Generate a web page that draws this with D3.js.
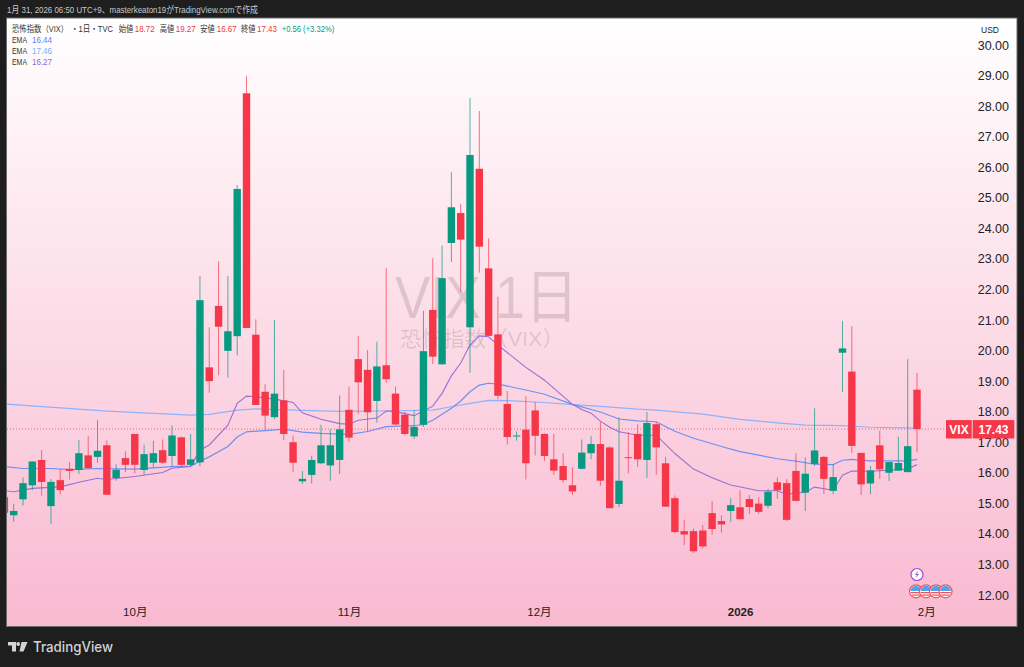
<!DOCTYPE html>
<html><head><meta charset="utf-8">
<script src="https://cdn.jsdelivr.net/npm/d3@7"></script>
<style>
html,body{margin:0;padding:0;background:#1e1e1e;overflow:hidden}
svg{display:block}
text{font-family:"Liberation Sans","Noto Sans CJK JP",sans-serif}
</style></head><body><svg id="c" width="1024" height="667"></svg>
<script>
// Candles start one session before the first full one (clipped at the left edge)
const opens=[15.20,14.61,15.13,15.59,16.42,14.91,15.76,16.13,16.09,16.57,16.52,16.90,15.83,16.48,17.27,16.09,16.33,16.74,16.55,17.16,16.26,16.34,19.45,21.46,19.99,20.47,28.42,20.52,18.65,17.82,18.37,17.00,15.72,15.93,16.31,16.24,16.42,18.06,19.72,19.37,18.35,19.52,18.59,17.90,17.19,17.57,21.33,19.55,23.52,24.50,20.76,25.95,22.69,20.53,18.25,17.21,17.41,18.04,17.27,16.44,16.22,15.59,16.13,16.64,16.94,16.83,14.98,16.51,17.27,16.42,17.59,16.31,15.17,14.09,14.09,14.11,14.68,14.42,14.75,14.87,15.14,14.99,14.92,15.69,15.66,16.06,15.35,16.29,16.52,15.41,19.93,19.31,16.65,15.65,16.90,16.00,16.07,16.02,18.72];
const highs=[15.43,14.98,15.85,16.37,16.74,15.79,16.12,16.35,17.07,17.20,17.73,17.06,16.28,16.70,17.27,16.92,17.05,17.09,17.55,17.19,17.27,22.44,20.76,22.92,22.44,25.42,28.98,21.02,18.90,21.00,19.36,17.22,16.06,16.55,17.57,17.42,18.53,18.82,20.47,20.02,20.29,22.70,18.82,18.00,18.05,21.30,23.02,23.43,25.84,24.80,28.27,27.84,23.67,21.76,18.68,17.36,18.51,18.31,17.29,17.27,16.64,16.18,17.09,17.20,17.66,16.87,17.81,17.33,17.59,17.99,17.67,16.52,15.26,14.45,14.17,14.29,15.07,14.61,15.17,15.43,15.27,15.20,15.47,15.85,15.79,16.64,16.50,18.11,16.55,16.28,20.97,20.80,16.65,16.22,17.37,16.36,17.18,19.72,19.27];
const lows=[14.45,14.40,14.92,15.43,15.25,14.33,15.30,15.78,15.96,16.14,16.33,15.28,15.74,16.02,15.98,15.93,16.18,16.29,16.20,16.20,16.22,16.22,18.62,19.19,19.12,19.84,20.74,18.22,17.40,17.75,17.07,16.02,15.63,15.65,16.28,15.74,15.96,17.01,17.92,17.34,17.64,18.94,17.56,17.23,17.10,17.50,19.56,19.53,22.90,21.92,19.27,22.55,20.48,18.40,16.92,17.05,15.78,16.57,16.39,15.93,15.67,15.28,16.11,16.44,15.57,14.84,14.87,15.98,16.20,15.83,15.93,14.89,14.02,13.63,13.38,13.52,13.98,14.04,14.39,14.48,14.65,14.65,14.84,15.15,14.43,15.08,14.75,16.22,15.31,15.30,18.64,16.65,15.27,15.30,15.80,15.73,16.06,16.02,16.67];
const closes=[14.69,14.75,15.66,16.37,15.70,15.70,15.43,16.06,16.64,16.15,16.72,15.28,16.10,16.26,16.26,16.61,16.64,16.33,17.22,16.26,16.44,21.65,19.00,20.78,20.63,25.29,20.74,18.22,17.87,18.59,17.27,16.33,15.80,16.42,16.90,16.90,17.42,17.15,18.96,17.98,19.48,19.06,17.58,17.27,17.50,19.98,19.80,22.37,24.69,23.63,26.40,23.40,20.48,18.52,17.17,17.22,16.31,17.21,16.55,16.07,15.76,15.39,16.66,16.94,15.74,14.84,15.74,16.48,16.44,17.63,16.83,14.89,14.06,13.98,13.43,13.59,14.16,14.31,14.94,14.48,14.88,14.72,15.38,15.43,14.46,15.08,15.97,16.73,15.80,15.86,20.07,16.88,15.62,16.08,16.11,16.35,16.32,16.87,17.43];
const firstSession=-1;

const ema1Idx=[-1,1,4,6,9,13,17,19,20,21,23,24,25,27,29,31,33,36,38,40,43,44,45,47,48,49,50,51,52,55,57,60,63,65,67,69,71,73,76,78,82,84,86,88,89,90,92,96,97];
const ema1Val=[16.20,16.14,16.14,16.10,16.14,16.12,16.20,16.22,16.38,16.52,16.86,17.17,17.34,17.38,17.43,17.33,17.29,17.26,17.35,17.51,17.54,17.58,17.72,18.11,18.35,18.65,18.87,18.93,18.90,18.71,18.57,18.24,17.99,17.76,17.70,17.67,17.36,17.13,16.86,16.69,16.46,16.38,16.28,16.27,16.41,16.44,16.39,16.39,16.44];
const ema2Idx=[-1,10,19,21,24,26,30,35,41,45,47,49,51,53,57,60,63,67,69,74,78,82,85,89,92,97];
const ema2Val=[18.25,18.02,17.89,17.91,18.05,18.09,18.05,18.01,18.03,18.05,18.16,18.27,18.37,18.36,18.30,18.23,18.17,18.08,18.05,17.92,17.75,17.63,17.56,17.54,17.49,17.46];
const ema3Idx=[-1,0,2,5,7,9,10,13,16,17,19,20,21,23,24,25,26,28,30,31,33,35,36,37,39,40,41,43,45,46,47,48,49,50,51,52,55,57,60,61,62,63,64,65,67,69,71,73,75,77,80,82,83,85,86,88,89,90,92,96,97];
const ema3Val=[15.41,15.38,15.49,15.54,15.69,15.82,15.78,15.88,16.01,16.15,16.21,16.74,16.91,17.56,18.27,18.51,18.49,18.41,18.30,17.96,17.75,17.61,17.59,17.72,17.79,18.02,18.00,17.87,18.18,18.60,19.17,19.59,20.18,20.48,20.45,20.18,19.45,19.03,18.24,18.07,17.95,17.69,17.49,17.34,17.23,17.23,16.63,16.12,15.84,15.60,15.41,15.41,15.30,15.36,15.53,15.43,15.92,16.06,16.05,16.12,16.27];

const priceTicks=d3.range(12,31);
const monthTickIdx=[13,36,56.4,78,98];
const monthTickLabels=["10月","11月","12月","2026","2月"];
const legendTexts=["恐怖指数（VIX）","・1日・TVC","始値","18.72","高値","19.27","安値","16.67","終値","17.43","+0.56 (+3.32%)"];
const emaNames=["EMA","EMA","EMA"];
const emaLast=["16.44","17.46","16.27"];
const lastPrice=17.43;

// layout and styling
const UP="#089981",DOWN="#f6374a";
const legendX=[12,71,118.7,134.7,159.7,175.7,200.3,216.7,241,257,281.7];
const legendW=[56,42,14.5,20,14.5,20,14.5,20,14.5,20,52.6];
const legendC=["#333","#333","#333","#f23645","#333","#f23645","#333","#f23645","#333","#f23645","#089981"];
const emaC=["#5b82f5","#79aef5","#9467d6"];

const svg=d3.select("#c");
const x=d3.scaleLinear().domain([0,97]).range([13.7,917]);
const y=d3.scaleLinear().domain([12,30]).range([595,45]);

const defs=svg.append("defs");
const g=defs.append("linearGradient").attr("id","bg").attr("x1",0).attr("y1",0).attr("x2",0).attr("y2",1);
g.append("stop").attr("offset",0).attr("stop-color","#ffffff");
g.append("stop").attr("offset",1).attr("stop-color","#f9b9d0");
defs.append("clipPath").attr("id","plot").append("rect").attr("x",7).attr("y",18).attr("width",1010).attr("height",609);

svg.append("rect").attr("width",1024).attr("height",667).attr("fill","#1e1e1e");
svg.append("rect").attr("x",6.5).attr("y",18).attr("width",1010.5).attr("height",608.5).attr("fill","url(#bg)").attr("stroke","#6a6a6a").attr("stroke-width",1);

// watermark
svg.append("text").attr("x",395).attr("y",318).attr("textLength",183).attr("lengthAdjust","spacingAndGlyphs").attr("font-size",59).attr("fill","#000").attr("fill-opacity",.12).text("VIX,1日");
svg.append("text").attr("x",400).attr("y",346).attr("textLength",164).attr("lengthAdjust","spacingAndGlyphs").attr("font-size",21).attr("fill","#000").attr("fill-opacity",.12).text("恐怖指数（VIX）");

const plot=svg.append("g").attr("clip-path","url(#plot)");

// last price line
plot.append("line").attr("x1",7).attr("x2",946).attr("y1",y(lastPrice)).attr("y2",y(lastPrice)).attr("stroke","#f23645").attr("stroke-opacity",.7).attr("stroke-dasharray","1 2");

// EMA lines
const line=d3.line().x(d=>x(d[0])).y(d=>y(d[1]));
[[ema2Idx,ema2Val,"#8fb2fa",1.2],[ema1Idx,ema1Val,"#6f8ff5",1.2],[ema3Idx,ema3Val,"#9a70d2",1.1]].forEach(([ix,v,c,w])=>{
  plot.append("path").datum(ix.map((k,i)=>[k,v[i]])).attr("d",line).attr("fill","none").attr("stroke",c).attr("stroke-width",w);
});

// candles
const candles=opens.map((o,i)=>({i:i+firstSession,o,h:highs[i],l:lows[i],c:closes[i]}));
const cg=plot.selectAll("g.k").data(candles).join("g").attr("class","k");
const col=d=>d.c>=d.o?UP:DOWN;
cg.append("line").attr("x1",d=>x(d.i)).attr("x2",d=>x(d.i)).attr("y1",d=>y(d.h)).attr("y2",d=>y(d.l)).attr("stroke",col).attr("stroke-width",1).attr("stroke-opacity",.7);
cg.append("rect").attr("x",d=>x(d.i)-3.7).attr("width",7.4).attr("y",d=>y(Math.max(d.o,d.c))).attr("height",d=>Math.max(1,Math.abs(y(d.o)-y(d.c)))).attr("fill",col);

// price axis
const ya=svg.append("g").attr("transform","translate(1009,0)").call(d3.axisLeft(y).tickValues(priceTicks).tickSize(0).tickPadding(0).tickFormat(d3.format(".2f")));
ya.select(".domain").remove();
ya.selectAll("text").attr("fill","#222").attr("font-size",12.5).style("font-family","'Liberation Sans'");

// time axis
const xa=svg.append("g").attr("transform","translate(0,608)").call(d3.axisBottom(x).tickValues(monthTickIdx).tickSize(0).tickPadding(0).tickFormat((d,i)=>monthTickLabels[i]));
xa.select(".domain").remove();
xa.selectAll("text").attr("fill","#222").attr("font-size",11.5).attr("font-weight",(d,i)=>monthTickLabels[i]==="2026"?"bold":"normal");

// last price tags
svg.append("rect").attr("x",946).attr("y",y(lastPrice)-9).attr("width",25.7).attr("height",18.4).attr("fill",DOWN);
svg.append("rect").attr("x",972.7).attr("y",y(lastPrice)-9).attr("width",41.6).attr("height",18.4).attr("fill",DOWN);
svg.append("text").attr("x",959).attr("y",y(lastPrice)+4.5).attr("text-anchor","middle").attr("fill","#fff").attr("font-size",12).attr("font-weight","bold").text("VIX");
svg.append("text").attr("x",993.5).attr("y",y(lastPrice)+4.5).attr("text-anchor","middle").attr("fill","#fff").attr("font-size",12).attr("font-weight","bold").text("17.43");

// USD box
svg.append("rect").attr("x",974.7).attr("y",20.7).attr("width",39.3).attr("height",17.6).attr("rx",3).attr("fill","#fff").attr("fill-opacity",.85);
svg.append("text").attr("x",981).attr("y",33).attr("font-size",8.5).attr("fill","#222").text("USD");

// header and legend
svg.append("text").attr("x",7).attr("y",12.5).attr("textLength",251).attr("lengthAdjust","spacingAndGlyphs").attr("font-size",9).attr("fill","#c8c8c8").text("1月 31, 2026 06:50 UTC+9、masterkeaton19がTradingView.comで作成");
legendTexts.forEach((t,i)=>svg.append("text").attr("x",legendX[i]).attr("y",31.5).attr("textLength",legendW[i]).attr("lengthAdjust","spacingAndGlyphs").attr("font-size",8.7).attr("fill",legendC[i]).text(t));
emaNames.forEach((t,i)=>{
  svg.append("text").attr("x",12).attr("y",42.5+i*11.2).attr("textLength",15).attr("lengthAdjust","spacingAndGlyphs").attr("font-size",8.7).attr("fill","#333").text(t);
  svg.append("text").attr("x",32).attr("y",42.5+i*11.2).attr("textLength",20).attr("lengthAdjust","spacingAndGlyphs").attr("font-size",8.7).attr("fill",emaC[i]).text(emaLast[i]);
});

// event markers
const ev=svg.append("g");
ev.append("circle").attr("cx",917).attr("cy",574.5).attr("r",6).attr("fill","#fff").attr("stroke","#9c4fd6").attr("stroke-width",1.2);
ev.append("path").attr("d","M918.5 570.5 L915 575 L917 575 L915.5 578.5 L919 574 L917 574 Z").attr("fill","#9c4fd6");
[916,926,936,945.5].forEach((cx,i)=>{
  const id="f"+i;
  defs.append("clipPath").attr("id",id).append("circle").attr("cx",cx).attr("cy",591.3).attr("r",5.5);
  const f=ev.append("g");
  f.append("circle").attr("cx",cx).attr("cy",591.3).attr("r",6.5).attr("fill","#fff").attr("stroke","#f0505f").attr("stroke-width",1.2);
  const h=f.append("g").attr("clip-path",`url(#${id})`);
  h.append("rect").attr("x",cx-6).attr("y",585.5).attr("width",12).attr("height",5.5).attr("fill","#4ea3ea");
  h.append("rect").attr("x",cx-6).attr("y",592).attr("width",12).attr("height",1.2).attr("fill","#f0505f");
  h.append("rect").attr("x",cx-6).attr("y",594.5).attr("width",12).attr("height",1.2).attr("fill","#f0505f");
});

// TradingView branding
svg.append("path").attr("d","M8 642 H16 V651.5 H12 V645.5 H8 Z M21.5 642 H27.5 L23.5 651.5 H19.5 Z").attr("fill","#d4d4d4");
svg.append("circle").attr("cx",18.2).attr("cy",644).attr("r",1.9).attr("fill","#d4d4d4");
svg.append("text").attr("x",33).attr("y",652).attr("textLength",80).attr("lengthAdjust","spacingAndGlyphs").attr("font-size",14.5).attr("fill","#d4d4d4").attr("font-weight",500).style("font-family","Inter,'Liberation Sans'").text("TradingView");
</script></body></html>
